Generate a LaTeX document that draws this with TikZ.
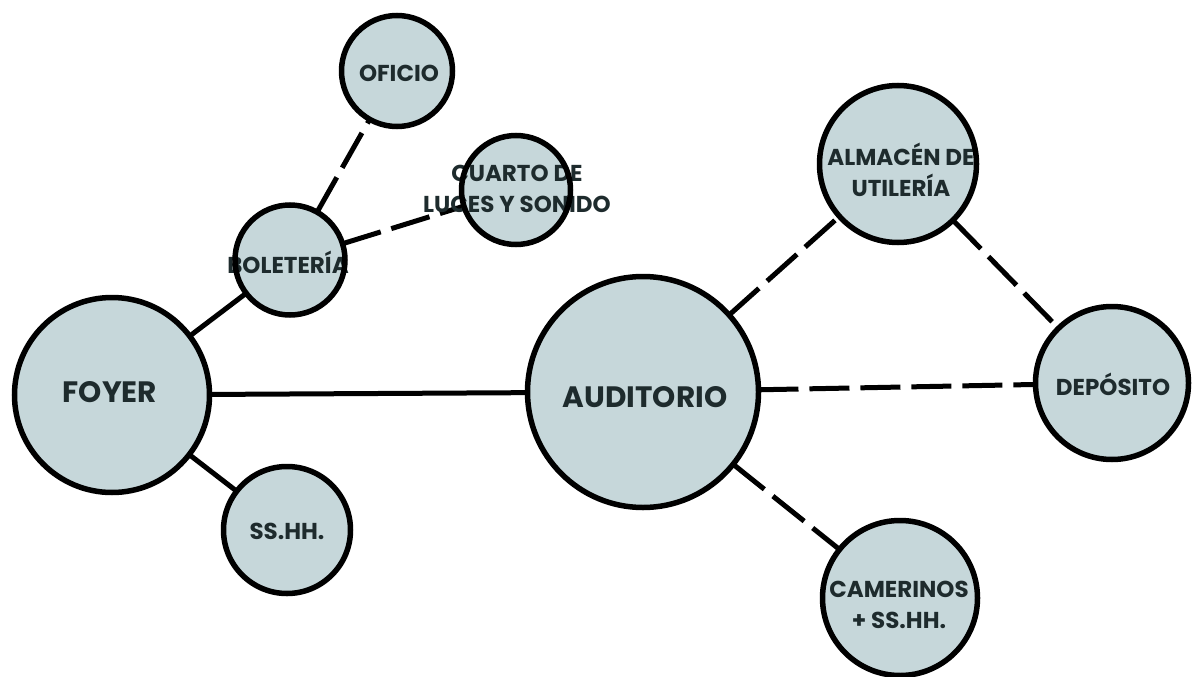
\documentclass[tikz,border=0pt]{standalone}
\usepackage{fontspec}
\setmainfont{Poppins}
\usepackage{tikz}
\usetikzlibrary{calc}
\definecolor{roomfill}{HTML}{C6D7DA}
\definecolor{roomtext}{HTML}{1E2B2D}

\begin{document}
\begin{tikzpicture}[x=1pt, y=-1pt,
        room/.style = {circle, fill=roomfill, inner sep=0pt, outer sep=0pt, minimum size=#1},
        ring/.style = {draw=black, line width=5.5pt},
        tag/.style = {text=roomtext, inner sep=0pt, align=center, font=\bfseries\fontsize{23}{31}\selectfont},
        bigtag/.style = {tag, font=\bfseries\fontsize{29.5}{31}\selectfont},
        link/.style = {line width=5pt},
        dlink/.style = {link, dash pattern=on 40pt off 11pt}]
            \useasboundingbox (0,0) rectangle (1194,677);

            % rooms
            \node[room=195pt] (foyer) at (112,395) {};
            \node[room=110pt] (bol) at (290,260) {};
            \node[room=111pt] (ofi) at (397,71) {};
            \node[room=109pt] (cua) at (516,190) {};
            \node[room=127pt] (sshh) at (287,530) {};
            \node[room=231pt] (aud) at (643,392) {};
            \node[room=157pt] (alm) at (898,164) {};
            \node[room=153pt] (dep) at (1112,383) {};
            \node[room=155pt] (cam) at (900,598) {};

            % links
            \path[link] (foyer) edge (bol);
            \path[link] (foyer) edge (sshh);
            \path[link] (foyer) edge (aud);
            \path[dlink] (bol) edge (ofi);
            \path[dlink] (bol) edge (cua);
            \path[dlink] (aud) edge (alm);
            \path[dlink] (aud) edge (dep);
            \path[dlink] (aud) edge (cam);
            \path[dlink] (alm) edge (dep);

            % names
            \node[bigtag] (tfoyer) at (110,392) {FOYER};
            \node[bigtag] (taud) at (645,397) {AUDITORIO};
            \node[tag] (tsshh) at (287,531) {SS.HH.};
            \node[tag] (tofi) at (399,73) {OFICIO};
            \node[tag] (tbol) at (288,262) {BOLETERÍA};
            \node[tag] (tcua) at (517,189) {CUARTO DE\\LUCES Y SONIDO};
            \node[tag] (talm) at (901,170) {ALMACÉN DE\\UTILERÍA};
            \node[tag] (tdep) at (1113,384) {DEPÓSITO};
            \node[tag] (tcam) at (899,605) {CAMERINOS\\+ SS.HH.};

            % outlines on top of the names
            \foreach \r in {foyer,bol,ofi,cua,sshh,aud,alm,dep,cam}
                \draw[ring] let \p1 = ($(\r.east)-(\r.center)$) in (\r.center) circle[radius=\x1];
        \end{tikzpicture}
\end{document}
